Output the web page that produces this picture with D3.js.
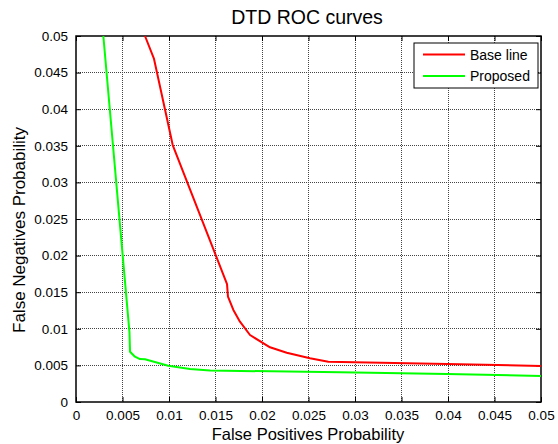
<!DOCTYPE html>
<html>
<head>
<meta charset="utf-8">
<script src="https://cdn.jsdelivr.net/npm/d3@7"></script>
<style>
  body { margin: 0; background: #fff; }
  text { font-family: "Liberation Sans", Arial, sans-serif; fill: #000; }
</style>
</head>
<body>
<svg id="chart" width="558" height="444"></svg>
<script>
//------------------------------------------------------------------------------
//Data
//------------------------------------------------------------------------------
let seriesNames = ["Base line", "Proposed"];
let seriesColors = ["#ff0000", "#00ff00"];

// Base line curve (false positives, false negatives)
let baseFP = [0.00742, 0.00839, 0.0104, 0.01624, 0.01634, 0.01692, 0.01763, 0.01871, 0.02086, 0.02266, 0.02516, 0.02713, 0.0399, 0.05];
let baseFN = [0.05, 0.04686, 0.0351, 0.0161, 0.01439, 0.01257, 0.01097, 0.00915, 0.00747, 0.00673, 0.00597, 0.00551, 0.00519, 0.00492];

// Proposed curve
let propFP = [0.00294, 0.00575, 0.00581, 0.00634, 0.00688, 0.00742, 0.00992, 0.01226, 0.01441, 0.02839, 0.0399, 0.05];
let propFN = [0.05, 0.0095, 0.00687, 0.00619, 0.00587, 0.00583, 0.00496, 0.00451, 0.0043, 0.00406, 0.00383, 0.00355];

let xTicks = [0, 0.005, 0.01, 0.015, 0.02, 0.025, 0.03, 0.035, 0.04, 0.045, 0.05];
let yTicks = [0, 0.005, 0.01, 0.015, 0.02, 0.025, 0.03, 0.035, 0.04, 0.045, 0.05];

let titleText = "DTD ROC curves";
let xLabel = "False Positives Probability";
let yLabel = "False Negatives Probability";

main()

//------------------------------------------------------------------------------
//Main
//------------------------------------------------------------------------------
function main()
{
    let svg = d3.select("#chart");
    let left = 76, top = 36, right = 541, bottom = 402;

    let x = d3.scaleLinear().domain([0, 0.05]).range([left, right]);
    let y = d3.scaleLinear().domain([0, 0.05]).range([bottom, top]);

    let fmt = d => d === 0 ? "0" : String(+d.toFixed(3));

    // grid (dotted, MATLAB style)
    let grid = svg.append("g").attr("shape-rendering", "crispEdges");
    xTicks.slice(1, -1).forEach(t => {
        grid.append("line")
            .attr("x1", x(t)).attr("x2", x(t))
            .attr("y1", top).attr("y2", bottom)
            .attr("stroke", "#444").attr("stroke-dasharray", "1,1");
    });
    yTicks.slice(1, -1).forEach(t => {
        grid.append("line")
            .attr("x1", left).attr("x2", right)
            .attr("y1", y(t)).attr("y2", y(t))
            .attr("stroke", "#444").attr("stroke-dasharray", "1,1");
    });

    // axes with inward ticks
    let axB = svg.append("g").attr("transform", `translate(0,${bottom})`)
        .call(d3.axisBottom(x).tickValues(xTicks).tickFormat(fmt).tickSizeInner(-5).tickSizeOuter(0).tickPadding(8));
    let axL = svg.append("g").attr("transform", `translate(${left},0)`)
        .call(d3.axisLeft(y).tickValues(yTicks).tickFormat(fmt).tickSizeInner(-5).tickSizeOuter(0).tickPadding(8));
    let axT = svg.append("g").attr("transform", `translate(0,${top})`)
        .call(d3.axisTop(x).tickValues(xTicks).tickFormat("").tickSizeInner(-5).tickSizeOuter(0));
    let axR = svg.append("g").attr("transform", `translate(${right},0)`)
        .call(d3.axisRight(y).tickValues(yTicks).tickFormat("").tickSizeInner(-5).tickSizeOuter(0));

    [axB, axL, axT, axR].forEach(a => {
        a.select(".domain").remove();
        a.selectAll("line").attr("stroke", "#000");
        a.selectAll("text").style("font-size", "13.5px").attr("font-family", null);
    });

    // box
    svg.append("rect")
        .attr("x", left).attr("y", top)
        .attr("width", right - left).attr("height", bottom - top)
        .attr("fill", "none").attr("stroke", "#000").attr("stroke-width", 1.5);

    // curves
    let line = d3.line().x(d => x(d[0])).y(d => y(d[1]));
    let curves = [d3.zip(baseFP, baseFN), d3.zip(propFP, propFN)];
    curves.forEach((c, i) => {
        svg.append("path")
            .datum(c)
            .attr("d", line)
            .attr("fill", "none")
            .attr("stroke", seriesColors[i])
            .attr("stroke-width", 2)
            .attr("stroke-linejoin", "round");
    });

    // title + labels
    svg.append("text").attr("x", 307).attr("y", 24)
        .attr("text-anchor", "middle").style("font-size", "19.5px").text(titleText);
    svg.append("text").attr("x", 308).attr("y", 440)
        .attr("text-anchor", "middle").style("font-size", "16.5px").text(xLabel);
    svg.append("text")
        .attr("transform", "translate(25,230) rotate(-90)")
        .attr("text-anchor", "middle").style("font-size", "17px").text(yLabel);

    // legend
    let lg = svg.append("g");
    lg.append("rect")
        .attr("x", 414).attr("y", 43).attr("width", 124).attr("height", 45)
        .attr("fill", "#fff").attr("stroke", "#000").attr("stroke-width", 1);
    seriesNames.forEach((n, i) => {
        let ly = 54.5 + i * 21.5;
        lg.append("line")
            .attr("x1", 423).attr("x2", 465).attr("y1", ly).attr("y2", ly)
            .attr("stroke", seriesColors[i]).attr("stroke-width", 2);
        lg.append("text")
            .attr("x", 470).attr("y", ly + 5)
            .style("font-size", "14px").text(n);
    });
}
</script>
</body>
</html>
